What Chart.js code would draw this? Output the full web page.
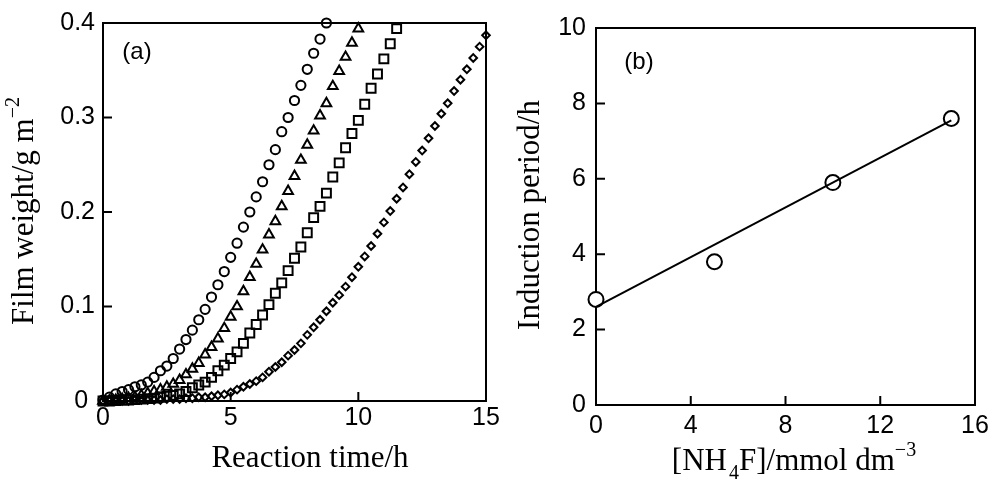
<!DOCTYPE html>
<html>
<head>
<meta charset="utf-8">
<script src="https://cdn.jsdelivr.net/npm/chart.js@4"></script>
<style>
  html, body { margin: 0; padding: 0; background: #fff; }
  body { width: 992px; height: 480px; position: relative; overflow: hidden; }
  canvas { position: absolute; top: 0; }
  #chart-a { left: 0; }
  #chart-b { left: 496px; }
</style>
</head>
<body>
<canvas id="chart-a" width="530" height="480"></canvas>
<canvas id="chart-b" width="496" height="480"></canvas>
<script>
// panel (a): film weight vs reaction time, one shared time axis (h)
const reactionTime = [
    0, 0.25, 0.5, 0.75, 1, 1.25, 1.5, 1.75, 2, 2.25, 2.5, 2.75, 3, 3.25, 3.5, 3.75,
    4, 4.25, 4.5, 4.75, 5, 5.25, 5.5, 5.75, 6, 6.25, 6.5, 6.75, 7, 7.25, 7.5, 7.75,
    8, 8.25, 8.5, 8.75, 9, 9.25, 9.5, 9.75, 10, 10.25, 10.5, 10.75, 11, 11.25, 11.5, 11.75,
    12, 12.25, 12.5, 12.75, 13, 13.25, 13.5, 13.75, 14, 14.25, 14.5, 14.75, 15
];
const weightCircle = [
    0.001, 0.004, 0.0075, 0.010, 0.012, 0.015, 0.017, 0.020, 0.025, 0.032, 0.037, 0.045,
    0.055, 0.065, 0.075, 0.086, 0.097, 0.110, 0.123, 0.137, 0.152, 0.167, 0.184, 0.200,
    0.216, 0.232, 0.250, 0.266, 0.285, 0.300, 0.318, 0.334, 0.351, 0.368, 0.383, 0.400
];
const weightTriangle = [
    0, 0.0005, 0.001, 0.002, 0.003, 0.004, 0.006, 0.008, 0.010, 0.012, 0.015, 0.018,
    0.022, 0.028, 0.034, 0.040, 0.049, 0.057, 0.066, 0.077, 0.089, 0.100, 0.116, 0.131,
    0.145, 0.160, 0.176, 0.190, 0.206, 0.222, 0.238, 0.255, 0.271, 0.286, 0.302, 0.315,
    0.333, 0.349, 0.364, 0.379, 0.394
];
const weightSquare = [
    0, 0, 0.0005, 0.001, 0.001, 0.0015, 0.002, 0.0025, 0.003, 0.004, 0.005, 0.006,
    0.0075, 0.010, 0.014, 0.017, 0.020, 0.025, 0.032, 0.038, 0.045, 0.052, 0.061, 0.072,
    0.081, 0.091, 0.102, 0.114, 0.125, 0.138, 0.151, 0.163, 0.178, 0.194, 0.206, 0.220,
    0.237, 0.252, 0.268, 0.283, 0.297, 0.314, 0.331, 0.346, 0.362, 0.378, 0.394
];
const weightDiamond = [
    0, 0, 0, 0, 0, 0.001, 0.001, 0.001, 0.001, 0.001, 0.002, 0.002,
    0.002, 0.003, 0.003, 0.004, 0.004, 0.005, 0.006, 0.007, 0.009, 0.012, 0.015, 0.018,
    0.021, 0.025, 0.031, 0.036, 0.041, 0.048, 0.054, 0.061, 0.070, 0.078, 0.086, 0.095,
    0.104, 0.112, 0.121, 0.131, 0.142, 0.153, 0.164, 0.177, 0.189, 0.201, 0.214, 0.226,
    0.240, 0.253, 0.265, 0.278, 0.291, 0.304, 0.315, 0.328, 0.340, 0.351, 0.363, 0.375, 0.387
];
const timeTicks = [0, 5, 10, 15];
const weightTicks = [0, 0.1, 0.2, 0.3, 0.4];

// panel (b): induction period vs NH4F concentration
const nh4fConc = [0, 5, 10, 15];
const inductionPeriod = [2.8, 3.8, 5.9, 7.6];
const fitConc = [0, 15];
const fitPeriod = [2.6, 7.55];
const concTicks = [0, 4, 8, 12, 16];
const periodTicks = [0, 2, 4, 6, 8, 10];

const sansFont = { family: "'Liberation Sans', Arial, sans-serif", size: 25 };
const serifFont = "'Liberation Serif', 'Times New Roman', serif";

function toPoints(xs, ys) {
    return ys.map((y, i) => ({ x: xs[i], y: y }));
}

function drawRich(ctx, parts, x, y, vertical) {
    ctx.save();
    ctx.translate(x, y);
    if (vertical) ctx.rotate(-Math.PI / 2);
    ctx.fillStyle = '#000';
    ctx.textAlign = 'left';
    ctx.textBaseline = 'alphabetic';
    let total = 0;
    parts.forEach(p => { ctx.font = p.font; total += ctx.measureText(p.text).width + (p.gap || 0); });
    let cx = -total / 2;
    parts.forEach(p => {
        ctx.font = p.font;
        ctx.fillText(p.text, cx, p.dy || 0);
        cx += ctx.measureText(p.text).width + (p.gap || 0);
    });
    ctx.restore();
}

// box round the plot area, inward tick marks, axis titles and panel letter
const framePlugin = {
    id: 'frame',
    beforeDatasetsDraw(chart, args, opts) {
        const { ctx, chartArea: a } = chart;
        ctx.save();
        ctx.strokeStyle = '#000';
        ctx.lineWidth = 2;
        ctx.strokeRect(a.left, a.top, a.right - a.left, a.bottom - a.top);
        const xs = chart.scales.x, ys = chart.scales.y;
        ctx.beginPath();
        xs.ticks.forEach(t => {
            if (t.value <= xs.min || t.value >= xs.max) return;
            const px = xs.getPixelForValue(t.value);
            ctx.moveTo(px, a.bottom);
            ctx.lineTo(px, a.bottom - 9);
        });
        ys.ticks.forEach(t => {
            if (t.value <= ys.min || t.value >= ys.max) return;
            const py = ys.getPixelForValue(t.value);
            ctx.moveTo(a.left, py);
            ctx.lineTo(a.left + 9, py);
        });
        ctx.stroke();
        ctx.restore();
    },
    afterDraw(chart, args, opts) {
        const ctx = chart.ctx;
        drawRich(ctx, opts.xTitle, opts.xTitleX, opts.xTitleY, false);
        drawRich(ctx, opts.yTitle, opts.yTitleX, opts.yTitleY, true);
        ctx.save();
        ctx.font = "24px 'Liberation Sans', Arial, sans-serif";
        ctx.fillStyle = '#000';
        ctx.textAlign = 'center';
        ctx.textBaseline = 'middle';
        ctx.fillText(opts.letter, opts.letterX, opts.letterY);
        ctx.restore();
    }
};

function axis(min, max, ticks, size, labelPad, isX, format) {
    return {
        type: 'linear',
        min: min,
        max: max,
        grid: { display: false, drawTicks: false },
        border: { display: false },
        ticks: { color: '#000', font: sansFont, padding: labelPad, maxRotation: 0, autoSkip: false,
                 callback: format || (v => String(v)) },
        afterBuildTicks: s => { s.ticks = ticks.map(v => ({ value: v })); },
        afterFit: s => {
            if (isX) { s.height = size; s.paddingLeft = 0; s.paddingRight = 0; }
            else { s.width = size; s.paddingTop = 0; s.paddingBottom = 0; }
        }
    };
}

function markerSet(ys, style, radius) {
    return {
        data: toPoints(reactionTime, ys),
        pointStyle: style,
        pointRadius: radius,
        pointBorderWidth: 2,
        pointBorderColor: '#000',
        pointBackgroundColor: 'rgba(0,0,0,0)',
        showLine: false,
        clip: false
    };
}

new Chart(document.getElementById('chart-a'), {
    type: 'scatter',
    data: {
        datasets: [
            markerSet(weightCircle, 'circle', 4.6),
            markerSet(weightTriangle, 'triangle', 5.6),
            markerSet(weightSquare, 'rect', 6.3),
            markerSet(weightDiamond, 'rectRot', 3.8)
        ]
    },
    options: {
        responsive: false,
        animation: false,
        events: [],
        layout: { padding: { left: 0, right: 44, top: 23, bottom: 0 } },
        scales: {
            x: axis(0, 15, timeTicks, 79, 2, true),
            // the zero label sits a little left of the others
            y: axis(0, 0.4, weightTicks, 103, 8, false, v => (v === 0 ? '0 ' : String(v)))
        },
        plugins: {
            legend: { display: false },
            tooltip: { enabled: false },
            frame: {
                xTitle: [{ text: 'Reaction time/h', font: '31px ' + serifFont }],
                xTitleX: 310, xTitleY: 467,
                yTitle: [
                    { text: 'Film weight/g m', font: '31px ' + serifFont },
                    { text: '\u22122', font: '20px ' + serifFont, dy: -14 }
                ],
                yTitleX: 33, yTitleY: 211,
                letter: '(a)', letterX: 137, letterY: 52
            }
        }
    },
    plugins: [framePlugin]
});

new Chart(document.getElementById('chart-b'), {
    type: 'scatter',
    data: {
        datasets: [
            {
                data: toPoints(fitConc, fitPeriod),
                showLine: true,
                borderColor: '#000',
                borderWidth: 2,
                pointRadius: 0,
                clip: false
            },
            {
                data: toPoints(nh4fConc, inductionPeriod),
                pointStyle: 'circle',
                pointRadius: 7.5,
                pointBorderWidth: 2,
                pointBorderColor: '#000',
                pointBackgroundColor: '#fff',
                showLine: false,
                clip: false
            }
        ]
    },
    options: {
        responsive: false,
        animation: false,
        events: [],
        layout: { padding: { left: 0, right: 17, top: 28, bottom: 0 } },
        scales: {
            x: axis(0, 16, concTicks, 75, 6, true),
            y: axis(0, 10, periodTicks, 100, 10, false)
        },
        plugins: {
            legend: { display: false },
            tooltip: { enabled: false },
            frame: {
                xTitle: [
                    { text: '[NH', font: '31px ' + serifFont, gap: 2 },
                    { text: '4', font: '20px ' + serifFont, dy: 9 },
                    { text: 'F]/mmol dm', font: '31px ' + serifFont },
                    { text: '\u22123', font: '20px ' + serifFont, dy: -14 }
                ],
                xTitleX: 298, xTitleY: 470,
                yTitle: [{ text: 'Induction period/h', font: '31px ' + serifFont }],
                yTitleX: 43, yTitleY: 215,
                letter: '(b)', letterX: 143, letterY: 62
            }
        }
    },
    plugins: [framePlugin]
});
</script>
</body>
</html>
